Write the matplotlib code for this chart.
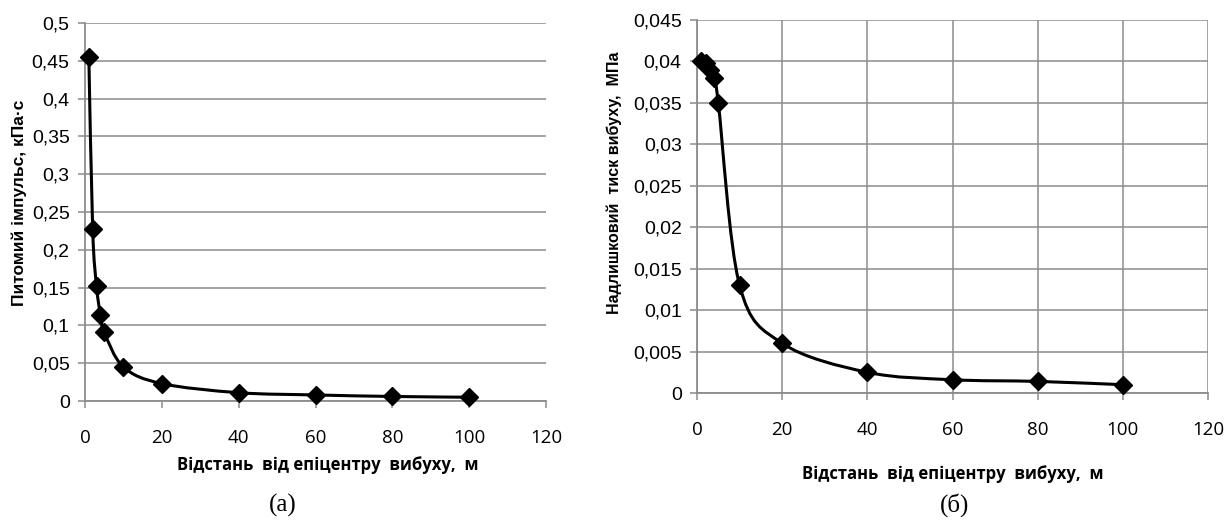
import numpy as np
import matplotlib.pyplot as plt
from matplotlib.path import Path
from matplotlib.patches import PathPatch

# data
dist_a = [1, 2, 3, 4, 5, 10, 20, 40, 60, 80, 100]
impulse = [0.455, 0.227, 0.152, 0.114, 0.091, 0.045, 0.023, 0.011, 0.008, 0.006, 0.005]

dist_b = [1, 2, 3, 4, 5, 10, 20, 40, 60, 80, 100]
pressure = [0.0400, 0.0398, 0.0390, 0.0380, 0.0350, 0.0130, 0.0060, 0.0025, 0.0016, 0.0014, 0.0010]

yticks_a = np.arange(0, 0.5001, 0.05)
yticks_b = np.arange(0, 0.04501, 0.005)
xticks = [0, 20, 40, 60, 80, 100, 120]

GRID = "#8c8c8c"
TICKFONT = "Liberation Sans"
XFONT = "Open Sans"
XLABEL = "Відстань  від епіцентру  вибуху,  м"


def comma(v, nd):
    s = f"{v:.{nd}f}".rstrip("0").rstrip(".")
    return s.replace(".", ",") if s else "0"


def smooth_path(x, y):
    # Excel-like smoothed line: Catmull-Rom as cubic bezier segments
    p = np.column_stack([x, y]).astype(float)
    n = len(p)
    verts = [p[0]]
    codes = [Path.MOVETO]
    for i in range(n - 1):
        p0 = p[i - 1] if i > 0 else p[i]
        p3 = p[i + 2] if i + 2 < n else p[i + 1]
        c1 = p[i] + (p[i + 1] - p0) / 6
        c2 = p[i + 1] - (p3 - p[i]) / 6
        verts += [c1, c2, p[i + 1]]
        codes += [Path.CURVE4] * 3
    return Path(verts, codes)


def style(ax, yt, nd, vgrid):
    ax.set_xlim(0, 120)
    ax.set_ylim(0, yt[-1])
    ax.set_xticks(xticks)
    ax.set_yticks(yt)
    ax.set_xticklabels([str(t) for t in xticks], fontsize=13.5, family=XFONT)
    ax.set_yticklabels([comma(v, nd) for v in yt], fontsize=14, family=TICKFONT)
    ax.grid(axis="y", color=GRID, linewidth=1.1)
    if vgrid:
        ax.grid(axis="x", color=GRID, linewidth=1.1)
    ax.set_axisbelow(True)
    for s in ["top", "right"]:
        ax.spines[s].set_visible(False)
    for s in ["left", "bottom"]:
        ax.spines[s].set_color(GRID)
        ax.spines[s].set_linewidth(1.3)
    ax.tick_params(axis="both", direction="out", length=5, color=GRID, width=1.1)
    ax.tick_params(axis="x", pad=15)
    ax.tick_params(axis="y", pad=6)


fig = plt.figure(figsize=(12.32, 5.21), dpi=100)

ax1 = fig.add_axes([85 / 1232, 1 - 401 / 521, 461 / 1232, 378 / 521])
style(ax1, yticks_a, 2, False)
ax1.add_patch(PathPatch(smooth_path(dist_a, impulse), fill=False, color="black", linewidth=2.2, zorder=3))
ax1.plot(dist_a, impulse, linestyle="none", marker="D", markersize=9.5, color="black", zorder=4, clip_on=False)
ax1.set_ylabel("Питомий імпульс, кПа·с", fontsize=12.5, fontweight="bold", family=TICKFONT)
ax1.yaxis.set_label_coords(-0.126, 0.524)
ax1.set_xlabel(XLABEL, fontsize=12, fontweight="bold", family=XFONT)
ax1.xaxis.set_label_coords(0.527, -0.145)

ax2 = fig.add_axes([697 / 1232, 1 - 393 / 521, 511 / 1232, 373 / 521])
style(ax2, yticks_b, 3, True)
ax2.add_patch(PathPatch(smooth_path(dist_b, pressure), fill=False, color="black", linewidth=2.2, zorder=3))
ax2.plot(dist_b, pressure, linestyle="none", marker="D", markersize=9.5, color="black", zorder=4, clip_on=False)
ax2.set_ylabel("Надлишковий  тиск вибуху,  МПа", fontsize=11.5, fontweight="bold", family=TICKFONT)
ax2.yaxis.set_label_coords(-0.147, 0.563)
ax2.set_xlabel(XLABEL, fontsize=12, fontweight="bold", family=XFONT)
ax2.xaxis.set_label_coords(0.5, -0.193)

fig.text(283 / 1232, 1 - 505 / 521, "(а)", fontsize=18, family="Liberation Serif", ha="center", va="center")
fig.text(955 / 1232, 1 - 505 / 521, "(б)", fontsize=18, family="Liberation Serif", ha="center", va="center")

fig.savefig("out.png", dpi=100)
